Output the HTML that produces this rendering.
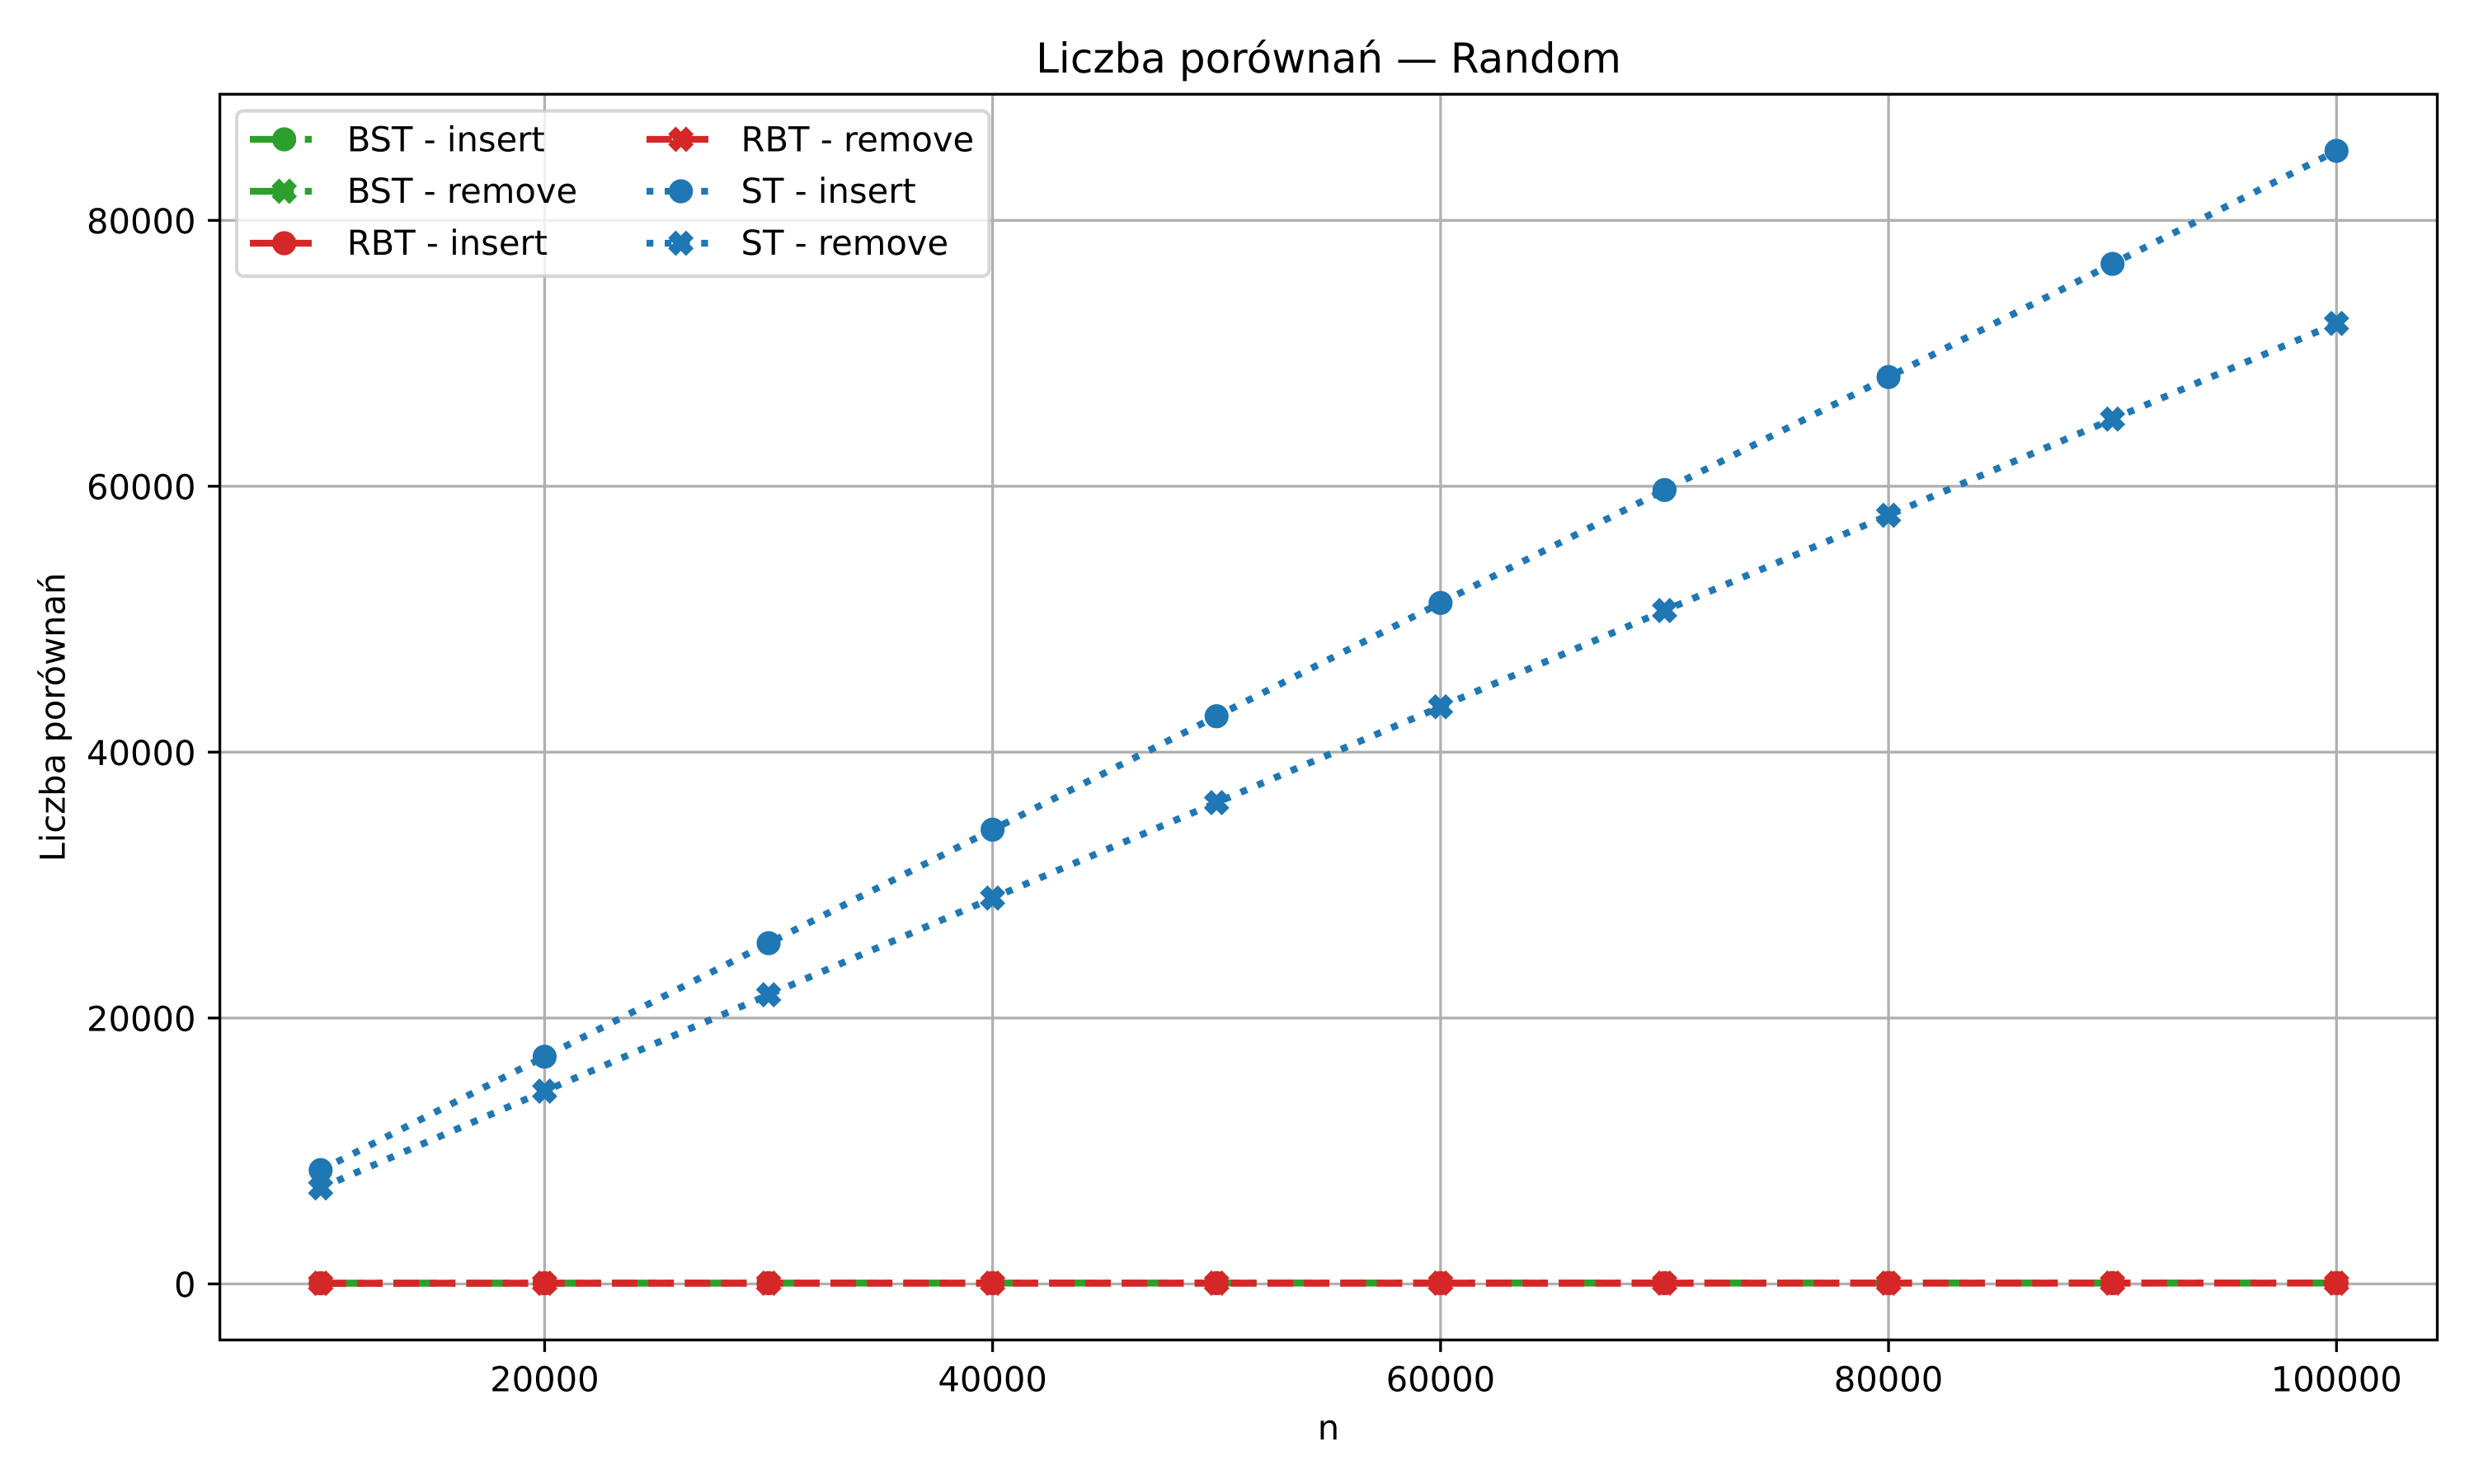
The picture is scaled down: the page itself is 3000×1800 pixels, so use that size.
<!DOCTYPE html>
<html lang="pl">
<head>
<meta charset="utf-8">
<title>Liczba porównań — Random</title>
<style>
html,body{margin:0;padding:0;background:#fff;}
svg{display:block;}
text{font-family:"DejaVu Sans","Liberation Sans",sans-serif;fill:#000;text-rendering:geometricPrecision;}
</style>
</head>
<body>
<svg id="chart" xmlns="http://www.w3.org/2000/svg" width="3000" height="1800" viewBox="0 0 3000 1800">
  <rect x="0" y="0" width="3000" height="1800" fill="#ffffff"/>
  <g id="grid"></g>
  <g id="series"></g>
  <g id="spines"></g>
  <g id="ticks"></g>
  <text x="1611" y="88" font-size="50" text-anchor="middle">Liczba porównań — Random</text>
  <text x="1611" y="1746" font-size="41.67" text-anchor="middle">n</text>
  <text x="78.3" y="870" font-size="41.67" text-anchor="middle" transform="rotate(-90 78.3 870)">Liczba porównań</text>
  <g id="legend">
    <rect x="287" y="134.5" width="912.5" height="200.5" rx="8.33" ry="8.33" fill="#ffffff" fill-opacity="0.8" stroke="#cccccc" stroke-opacity="0.8" stroke-width="4.17"/>
    <g id="legend-handles"></g>
    <text x="420.7" y="183.3" font-size="41.67">BST - insert</text>
    <text x="420.7" y="246" font-size="41.67">BST - remove</text>
    <text x="420.7" y="309" font-size="41.67">RBT - insert</text>
    <text x="898.5" y="183.3" font-size="41.67">RBT - remove</text>
    <text x="898.5" y="246" font-size="41.67">ST - insert</text>
    <text x="898.5" y="309" font-size="41.67">ST - remove</text>
  </g>
</svg>
<script>
// ---- chart data ----
const nValues = [10000, 20000, 30000, 40000, 50000, 60000, 70000, 80000, 90000, 100000];
const bstInsert = [52, 56, 58, 60, 61, 62, 63, 64, 64, 65];
const bstRemove = [50, 54, 56, 58, 59, 60, 61, 62, 62, 63];
const rbtInsert = [48, 51, 53, 54, 55, 56, 56, 57, 57, 58];
const rbtRemove = [47, 50, 52, 53, 54, 55, 55, 56, 56, 57];
const stInsert = [8560, 17090, 25630, 34170, 42700, 51225, 59720, 68217, 76730, 85228];
const stRemove = [7220, 14500, 21750, 29023, 36200, 43411, 50650, 57817, 65050, 72248];
const xTickValues = [20000, 40000, 60000, 80000, 100000];
const yTickValues = [0, 20000, 40000, 60000, 80000];

// ---- plot geometry ----
const NS = 'http://www.w3.org/2000/svg';
const plotLeft = 266.6, plotRight = 2955.5, plotTop = 114.3, plotBottom = 1625.3;
const xDomainMin = 5500, xDomainMax = 104500;
const yDomainMin = -4217, yDomainMax = 89488;
function xScale(v) { return plotLeft + (v - xDomainMin) / (xDomainMax - xDomainMin) * (plotRight - plotLeft); }
function yScale(v) { return plotBottom - (v - yDomainMin) / (yDomainMax - yDomainMin) * (plotBottom - plotTop); }

const LW = 3.33, GREEN = '#2ca02c', RED = '#d62728', BLUE = '#1f77b4';
const DASHDOT = '53.33 13.33 8.33 13.33', DASHED = '30.83 13.33', DOTTED = '8.33 13.75';

function make(tag, attrs, parent) {
  const node = document.createElementNS(NS, tag);
  for (const k in attrs) node.setAttribute(k, attrs[k]);
  parent.appendChild(node);
  return node;
}
function drawMarker(kind, cx, cy, color, parent) {
  if (kind === 'circle') {
    return make('circle', { cx: cx, cy: cy, r: 12.5, fill: color, stroke: color, 'stroke-width': 4.17 }, parent);
  }
  const u = 6.25;
  const shape = [[-1,-2],[0,-1],[1,-2],[2,-1],[1,0],[2,1],[1,2],[0,1],[-1,2],[-2,1],[-1,0],[-2,-1]];
  const pts = shape.map(p => (cx + p[0] * u).toFixed(2) + ',' + (cy + p[1] * u).toFixed(2)).join(' ');
  return make('polygon', { points: pts, fill: color, stroke: color, 'stroke-width': 4.17, 'stroke-linejoin': 'miter' }, parent);
}

// ---- grid ----
const gridG = document.getElementById('grid');
xTickValues.forEach(function (t) {
  const g = make('line', { x1: xScale(t), x2: xScale(t), y1: plotTop, y2: plotBottom, stroke: '#b0b0b0', 'stroke-width': LW }, gridG);
  
  
});
yTickValues.forEach(function (t) {
  const g = make('line', { x1: plotLeft, x2: plotRight, y1: yScale(t), y2: yScale(t), stroke: '#b0b0b0', 'stroke-width': LW }, gridG);
  
  
});

// ---- series ----
function drawSeries(name, values, color, dash, markerKind) {
  const seriesG = document.getElementById('series');
  const group = make('g', {}, seriesG);
  
  
  const pts = values.map((v, i) => xScale(nValues[i]).toFixed(2) + ',' + yScale(v).toFixed(2)).join(' ');
  const line = make('polyline', { points: pts, fill: 'none', stroke: color, 'stroke-width': 8.33, 'stroke-dasharray': dash, 'stroke-linecap': 'butt', 'stroke-linejoin': 'round' }, group);
  
  
  values.forEach(function (v, i) {
    const m = drawMarker(markerKind, xScale(nValues[i]), yScale(v), color, group);
    
    
  });
}
drawSeries('bst-insert', bstInsert, GREEN, DASHDOT, 'circle');
drawSeries('bst-remove', bstRemove, GREEN, DASHDOT, 'x');
drawSeries('rbt-insert', rbtInsert, RED, DASHED, 'circle');
drawSeries('rbt-remove', rbtRemove, RED, DASHED, 'x');
drawSeries('st-insert', stInsert, BLUE, DOTTED, 'circle');
drawSeries('st-remove', stRemove, BLUE, DOTTED, 'x');

// ---- spines ----
const spinesG = document.getElementById('spines');
const frame = make('rect', { x: plotLeft, y: plotTop, width: plotRight - plotLeft, height: plotBottom - plotTop, fill: 'none', stroke: '#000000', 'stroke-width': LW, 'stroke-linejoin': 'miter' }, spinesG);



// ---- ticks and tick labels ----
const ticksG = document.getElementById('ticks');
xTickValues.forEach(function (t) {
  const mark = make('line', { x1: xScale(t), x2: xScale(t), y1: plotBottom, y2: plotBottom + 14.58, stroke: '#000000', 'stroke-width': LW }, ticksG);
  
  
  const label = make('text', { x: xScale(t), y: 1687.7, 'font-size': 41.67, 'text-anchor': 'middle' }, ticksG);
  label.textContent = String(t);
  
  
});
yTickValues.forEach(function (t) {
  const mark = make('line', { x1: plotLeft - 14.58, x2: plotLeft, y1: yScale(t), y2: yScale(t), stroke: '#000000', 'stroke-width': LW }, ticksG);
  
  
  const label = make('text', { x: 237.5, y: yScale(t) + 15.9, 'font-size': 41.67, 'text-anchor': 'end' }, ticksG);
  label.textContent = String(t);
  
  
});

// ---- legend handles ----
function drawHandle(name, left, rowY, color, dash, markerKind) {
  const handles = document.getElementById('legend-handles');
  const group = make('g', {}, handles);
  
  
  const line = make('line', { x1: left, x2: left + 83.33, y1: rowY, y2: rowY, stroke: color, 'stroke-width': 8.33, 'stroke-dasharray': dash, 'stroke-linecap': 'butt' }, group);
  
  
  const m = drawMarker(markerKind, left + 41.67, rowY, color, group);
  
  
}
drawHandle('bst-insert', 303, 169, GREEN, DASHDOT, 'circle');
drawHandle('bst-remove', 303, 232, GREEN, DASHDOT, 'x');
drawHandle('rbt-insert', 303, 295, RED, DASHED, 'circle');
drawHandle('rbt-remove', 784, 169, RED, DASHED, 'x');
drawHandle('st-insert', 784, 232, BLUE, DOTTED, 'circle');
drawHandle('st-remove', 784, 295, BLUE, DOTTED, 'x');
</script>
</body>
</html>
